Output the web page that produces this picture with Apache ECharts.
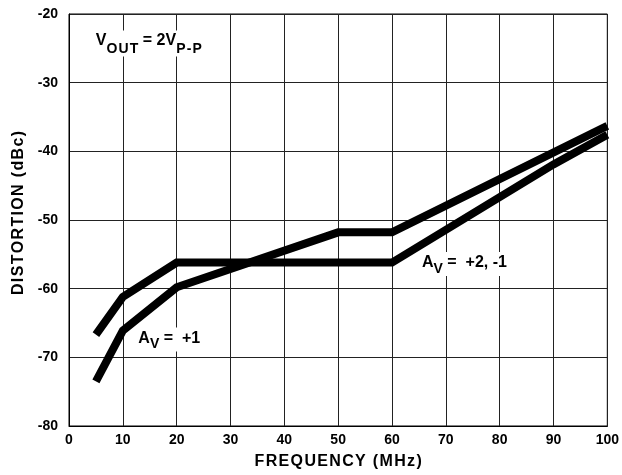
<!DOCTYPE html>
<html>
<head>
<meta charset="utf-8">
<script src="https://cdn.jsdelivr.net/npm/echarts@6/dist/echarts.min.js"></script>
<style>
html,body{margin:0;padding:0;background:#fff;}
#c{width:622px;height:475px;}
</style>
</head>
<body>
<div id="c"></div>
<script>
// Data
const freqAv2 = [5, 10, 20, 60, 90, 100];
const distAv2 = [-66.7, -61.2, -56.2, -56.2, -41.9, -37.6];
const freqAv1 = [5, 10, 20, 50, 60, 100];
const distAv1 = [-73.5, -66.1, -59.8, -51.8, -51.8, -36.3];
const xTicks = [0, 10, 20, 30, 40, 50, 60, 70, 80, 90, 100];
const yTicks = [-80, -70, -60, -50, -40, -30, -20];
const seriesNames = ['AV = +2, -1', 'AV = +1'];

const font = '"Liberation Sans", Arial, Helvetica, sans-serif';
const pair = (xs, ys) => xs.map((x, i) => [x, ys[i]]);
const spaced = s => s.split('').join('\u200A');

const richGain = {
  gm: {fontFamily: font, fontWeight: 'bold', fontSize: 16, color: '#000', lineHeight: 24, verticalAlign: 'bottom', padding: [0,0,5,0]},
  gs: {fontFamily: font, fontWeight: 'bold', fontSize: 14, color: '#000', lineHeight: 24, verticalAlign: 'bottom', padding: [0,0,0,0]}
};
const richVout = {
  vm: {fontFamily: font, fontWeight: 'bold', fontSize: 16, color: '#000', lineHeight: 26, verticalAlign: 'bottom', padding: [0,0,8,0]},
  vs: {fontFamily: font, fontWeight: 'bold', fontSize: 14, color: '#000', lineHeight: 26, verticalAlign: 'bottom', padding: [0,0,0,0]}
};

function note(coord, text, rich) {
  return {
    coord: coord, symbol: 'circle', symbolSize: 1,
    itemStyle: {color: 'rgba(0,0,0,0)'},
    label: {show: true, position: 'right', distance: 0, formatter: text, rich: rich, color: '#000',
      fontFamily: font, fontWeight: 'bold', fontSize: 16,
      backgroundColor: '#fff', padding: [0, 1, 0, 1]}
  };
}

const chart = echarts.init(document.getElementById('c'), null, {renderer: 'canvas'});
chart.setOption({
  animation: false,
  backgroundColor: '#fff',
  grid: {left: 69, right: 14, top: 14, bottom: 48, show: true, borderColor: '#000', borderWidth: 1},
  xAxis: {
    type: 'value', min: 0, max: 100, interval: 10,
    axisLine: {show: true, lineStyle: {color: '#000', width: 1}},
    axisTick: {show: false},
    splitLine: {show: true, lineStyle: {color: '#222', width: 1}},
    axisLabel: {color: '#000', fontFamily: font, fontWeight: 'bold', fontSize: 14, margin: 7,
      formatter: v => xTicks.includes(v) ? String(v) : ''},
    name: spaced('FREQUENCY (MHz)'), nameLocation: 'middle', nameGap: 28,
    nameTextStyle: {color: '#000', fontFamily: font, fontWeight: 'bold', fontSize: 16}
  },
  yAxis: {
    type: 'value', min: -80, max: -20, interval: 10,
    axisLine: {show: true, lineStyle: {color: '#000', width: 1}},
    axisTick: {show: false},
    splitLine: {show: true, lineStyle: {color: '#222', width: 1}},
    axisLabel: {color: '#000', fontFamily: font, fontWeight: 'bold', fontSize: 14, margin: 11,
      formatter: v => yTicks.includes(v) ? String(v) : ''},
    name: spaced('DISTORTION (dBc)'), nameLocation: 'middle', nameGap: 40, nameRotate: 90,
    nameTextStyle: {color: '#000', fontFamily: font, fontWeight: 'bold', fontSize: 16, padding: [0, 0, 0, 14]}
  },
  series: [
    {
      name: seriesNames[0], type: 'line', data: pair(freqAv2, distAv2),
      symbol: 'none', lineStyle: {color: '#000', width: 8, cap: 'butt', join: 'miter'},
      markPoint: {
        silent: true,
        data: [note([65.3, -56.4], '{gm|A}{gs|V}{gm| =  +2, -1}', richGain)]
      }
    },
    {
      name: seriesNames[1], type: 'line', data: pair(freqAv1, distAv1),
      symbol: 'none', lineStyle: {color: '#000', width: 8, cap: 'butt', join: 'miter'},
      markPoint: {
        silent: true,
        data: [
          note([12.6, -67.4], '{gm|A}{gs|V}{gm| =  +1}', richGain),
          note([4.7, -24.3], '{vm|V}{vs|O\u200AU\u200AT}{vm| = 2V}{vs|P\u200A-\u200AP}', richVout)
        ]
      }
    }
  ]
});
</script>
</body>
</html>
